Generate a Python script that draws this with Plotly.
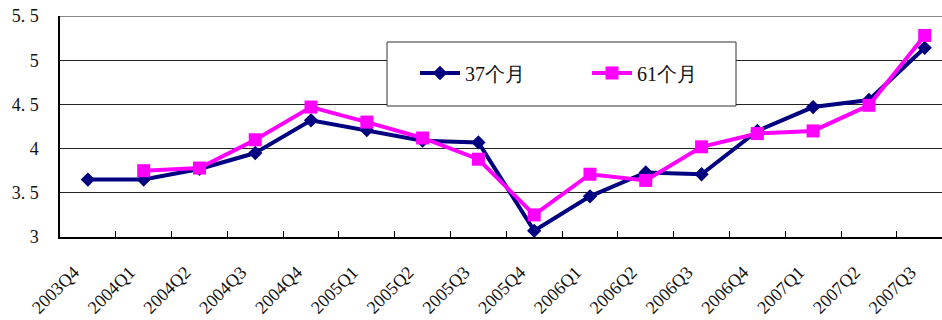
import plotly.graph_objects as go

# Quarterly series: 37-month and 61-month values
quarters = ["2003Q4", "2004Q1", "2004Q2", "2004Q3", "2004Q4",
            "2005Q1", "2005Q2", "2005Q3", "2005Q4",
            "2006Q1", "2006Q2", "2006Q3", "2006Q4",
            "2007Q1", "2007Q2", "2007Q3"]
m37 = [3.65, 3.65, 3.77, 3.95, 4.32, 4.21, 4.09, 4.07, 3.07,
       3.46, 3.73, 3.71, 4.20, 4.47, 4.55, 5.14]
m61 = [None, 3.75, 3.78, 4.10, 4.47, 4.30, 4.12, 3.88, 3.25,
       3.71, 3.64, 4.02, 4.17, 4.20, 4.49, 5.28]
ytick_vals = [3, 3.5, 4, 4.5, 5, 5.5]
ytick_text = ["3", "3. 5", "4", "4. 5", "5", "5. 5"]

FONT = "Liberation Serif"
W, H = 942, 320
ML, MR, MT, MB = 60, 0, 16, 83

fig = go.Figure()
fig.add_trace(go.Scatter(
    x=quarters, y=m37, name="37个月", mode="lines+markers",
    line=dict(color="#000080", width=4),
    marker=dict(symbol="diamond", size=11, color="#000080"),
))
fig.add_trace(go.Scatter(
    x=quarters, y=m61, name="61个月", mode="lines+markers",
    line=dict(color="#FF00FF", width=4),
    marker=dict(symbol="square", size=13, color="#FF00FF"),
))

# legend frame
fig.add_shape(type="rect", xref="paper", yref="paper",
              x0=(387 - ML) / (W - ML - MR), x1=(736 - ML) / (W - ML - MR),
              y0=(H - MB - 106) / (H - MT - MB), y1=(H - MB - 42) / (H - MT - MB),
              line=dict(color="#333333", width=1), fillcolor="white", layer="above")
# top border of the plot area
fig.add_shape(type="line", xref="paper", yref="y", x0=0, x1=1, y0=5.5, y1=5.5,
              line=dict(color="#888888", width=2), layer="above")

fig.update_layout(
    width=W, height=H,
    margin=dict(l=ML, r=MR, t=MT, b=MB, autoexpand=False),
    paper_bgcolor="white", plot_bgcolor="white",
    font=dict(family=FONT, color="#111111"),
    showlegend=True,
    legend=dict(
        orientation="h",
        x=(415 - ML) / (W - ML - MR), xanchor="left",
        y=(H - MB - 73) / (H - MT - MB), yanchor="middle",
        bgcolor="rgba(0,0,0,0)", borderwidth=0,
        font=dict(size=20, family=FONT, color="#111111"),
        entrywidth=117, itemwidth=40,
    ),
    xaxis=dict(
        type="category", range=[-0.5, 15.31], automargin=False,
        tickson="boundaries", ticks="inside", ticklen=6, tickcolor="#000000",
        showgrid=False, showline=True, linecolor="#000000", linewidth=1.5,
        tickangle=-45, tickfont=dict(size=18, family=FONT, color="#111111"),
        ticklabelstandoff=16, ticklabelshift=-14,
    ),
    yaxis=dict(
        range=[3, 5.5], tickvals=ytick_vals, ticktext=ytick_text, automargin=False,
        showgrid=True, gridcolor="#222222", gridwidth=1,
        showline=True, linecolor="#000000", linewidth=1.5,
        ticks="", tickfont=dict(size=18, family=FONT, color="#111111"),
        ticklabelstandoff=16, zeroline=False,
    ),
)

fig.write_html("out.html")
